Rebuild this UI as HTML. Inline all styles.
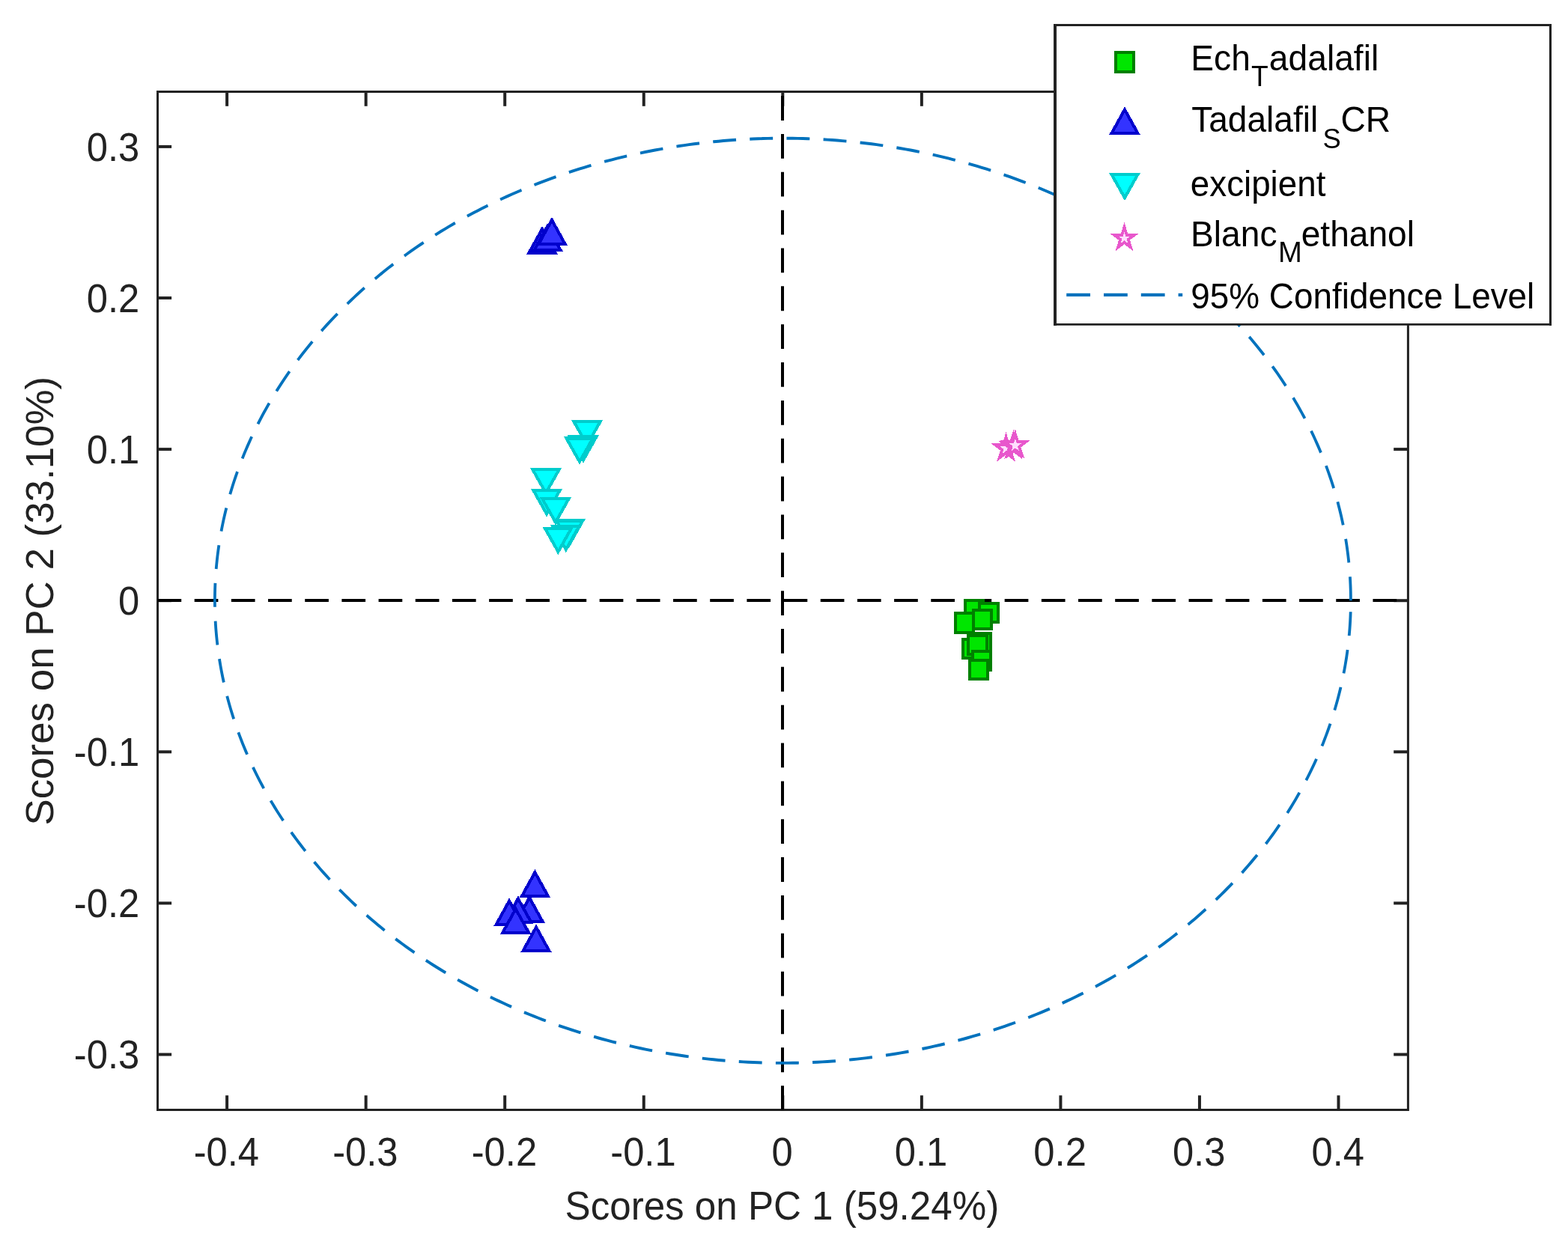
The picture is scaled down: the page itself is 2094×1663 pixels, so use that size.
<!DOCTYPE html>
<html lang="en"><head><meta charset="utf-8"><title>Scores on PC 1 vs PC 2</title>
<style>html,body{margin:0;padding:0;background:#fff;}body{width:2094px;height:1663px;overflow:hidden;}svg{display:block;}text{font-family:'Liberation Sans', sans-serif;}</style></head><body>
<svg width="2094" height="1663" viewBox="0 0 2094 1663" role="img" aria-label="PCA scores plot: Scores on PC 1 versus Scores on PC 2">
<rect x="0" y="0" width="2094" height="1663" fill="#ffffff"/>
<g stroke="#222222" stroke-width="4.0" fill="none" stroke-linecap="butt">
<line x1="303.1" y1="1482.5" x2="303.1" y2="1463.2"/>
<line x1="303.1" y1="122.5" x2="303.1" y2="141.8"/>
<line x1="488.65" y1="1482.5" x2="488.65" y2="1463.2"/>
<line x1="488.65" y1="122.5" x2="488.65" y2="141.8"/>
<line x1="674.2" y1="1482.5" x2="674.2" y2="1463.2"/>
<line x1="674.2" y1="122.5" x2="674.2" y2="141.8"/>
<line x1="859.75" y1="1482.5" x2="859.75" y2="1463.2"/>
<line x1="859.75" y1="122.5" x2="859.75" y2="141.8"/>
<line x1="1045.3" y1="1482.5" x2="1045.3" y2="1463.2"/>
<line x1="1045.3" y1="122.5" x2="1045.3" y2="141.8"/>
<line x1="1230.85" y1="1482.5" x2="1230.85" y2="1463.2"/>
<line x1="1230.85" y1="122.5" x2="1230.85" y2="141.8"/>
<line x1="1416.4" y1="1482.5" x2="1416.4" y2="1463.2"/>
<line x1="1416.4" y1="122.5" x2="1416.4" y2="141.8"/>
<line x1="1601.95" y1="1482.5" x2="1601.95" y2="1463.2"/>
<line x1="1601.95" y1="122.5" x2="1601.95" y2="141.8"/>
<line x1="1787.5" y1="1482.5" x2="1787.5" y2="1463.2"/>
<line x1="1787.5" y1="122.5" x2="1787.5" y2="141.8"/>
<line x1="210.5" y1="1408.5" x2="229.1" y2="1408.5"/>
<line x1="1880.4" y1="1408.5" x2="1861.2" y2="1408.5"/>
<line x1="210.5" y1="1206.4" x2="229.1" y2="1206.4"/>
<line x1="1880.4" y1="1206.4" x2="1861.2" y2="1206.4"/>
<line x1="210.5" y1="1004.3" x2="229.1" y2="1004.3"/>
<line x1="1880.4" y1="1004.3" x2="1861.2" y2="1004.3"/>
<line x1="210.5" y1="802.2" x2="229.1" y2="802.2"/>
<line x1="1880.4" y1="802.2" x2="1861.2" y2="802.2"/>
<line x1="210.5" y1="600.1" x2="229.1" y2="600.1"/>
<line x1="1880.4" y1="600.1" x2="1861.2" y2="600.1"/>
<line x1="210.5" y1="398" x2="229.1" y2="398"/>
<line x1="1880.4" y1="398" x2="1861.2" y2="398"/>
<line x1="210.5" y1="195.9" x2="229.1" y2="195.9"/>
<line x1="1880.4" y1="195.9" x2="1861.2" y2="195.9"/>
</g>
<rect x="210.5" y="122.5" width="1669.9" height="1360" fill="none" stroke="#222222" stroke-width="3"/>
<defs><clipPath id="axclip"><rect x="210.5" y="122.5" width="1669.9" height="1360"/></clipPath></defs>
<g clip-path="url(#axclip)">
<line x1="210.5" y1="802" x2="1880.4" y2="802" stroke="#000" stroke-width="4.2" stroke-dasharray="31.7 17.48"/>
<line x1="1045" y1="128.1" x2="1045" y2="1482.5" stroke="#000" stroke-width="4" stroke-dasharray="32.8 18.05"/>
<g shape-rendering="crispEdges">
<rect x="1289.02" y="802.02" width="24.15" height="24.95" fill="#00e600" stroke="#008000" stroke-width="3.85"/>
<rect x="1307.92" y="806.02" width="25.15" height="24.95" fill="#00e600" stroke="#008000" stroke-width="3.85"/>
<rect x="1275.97" y="819.22" width="24.15" height="25.65" fill="#00e600" stroke="#008000" stroke-width="3.85"/>
<rect x="1300.17" y="815.07" width="23.85" height="24.85" fill="#00e600" stroke="#008000" stroke-width="3.85"/>
<rect x="1298.83" y="846.02" width="24.15" height="24.95" fill="#00e600" stroke="#008000" stroke-width="3.85"/>
<rect x="1293.12" y="846.07" width="24.15" height="24.95" fill="#00e600" stroke="#008000" stroke-width="3.85"/>
<rect x="1286.12" y="854.02" width="24.15" height="24.95" fill="#00e600" stroke="#008000" stroke-width="3.85"/>
<rect x="1293.12" y="849.22" width="24.75" height="24.95" fill="#00e600" stroke="#008000" stroke-width="3.85"/>
<rect x="1298.83" y="869.82" width="24.15" height="24.95" fill="#00e600" stroke="#008000" stroke-width="3.85"/>
<rect x="1294.92" y="882.02" width="24.15" height="24.95" fill="#00e600" stroke="#008000" stroke-width="3.85"/>
</g>
<g shape-rendering="crispEdges">
<polygon transform="translate(724,301.8) scale(1,1.0337)" points="0,4 17.6,34.9 -17.6,34.9" fill="#3333ff" stroke="#0000cc" stroke-width="4.0" stroke-linejoin="miter"/>
<polygon transform="translate(731,298.1) scale(1,1.0337)" points="0,4 17.6,34.9 -17.6,34.9" fill="#3333ff" stroke="#0000cc" stroke-width="4.0" stroke-linejoin="miter"/>
<polygon transform="translate(737,289.8) scale(1,1.0337)" points="0,4 17.6,34.9 -17.6,34.9" fill="#3333ff" stroke="#0000cc" stroke-width="4.0" stroke-linejoin="miter"/>
<polygon transform="translate(707,1194.9) scale(1,1.0337)" points="0,4 17.6,34.9 -17.6,34.9" fill="#3333ff" stroke="#0000cc" stroke-width="4.0" stroke-linejoin="miter"/>
<polygon transform="translate(691.9,1196.2) scale(1,1.0337)" points="0,4 17.6,34.9 -17.6,34.9" fill="#3333ff" stroke="#0000cc" stroke-width="4.0" stroke-linejoin="miter"/>
<polygon transform="translate(680.1,1199.2) scale(1,1.0337)" points="0,4 17.6,34.9 -17.6,34.9" fill="#3333ff" stroke="#0000cc" stroke-width="4.0" stroke-linejoin="miter"/>
<polygon transform="translate(688.7,1210) scale(1,1.0337)" points="0,4 17.6,34.9 -17.6,34.9" fill="#3333ff" stroke="#0000cc" stroke-width="4.0" stroke-linejoin="miter"/>
<polygon transform="translate(714.4,1161.1) scale(1,1.0337)" points="0,4 17.6,34.9 -17.6,34.9" fill="#3333ff" stroke="#0000cc" stroke-width="4.0" stroke-linejoin="miter"/>
<polygon transform="translate(716,1234.25) scale(1,1.0337)" points="0,4 17.6,34.9 -17.6,34.9" fill="#3333ff" stroke="#0000cc" stroke-width="4.0" stroke-linejoin="miter"/>
<polygon transform="translate(784,561.2) scale(1,1.0337)" points="-17.6,2 17.6,2 0,32.3" fill="#00ffff" stroke="#00cccc" stroke-width="4.0" stroke-linejoin="miter"/>
<polygon transform="translate(778.9,581.3) scale(1,1.0337)" points="-17.6,2 17.6,2 0,32.3" fill="#00ffff" stroke="#00cccc" stroke-width="4.0" stroke-linejoin="miter"/>
<polygon transform="translate(774,583.4) scale(1,1.0337)" points="-17.6,2 17.6,2 0,32.3" fill="#00ffff" stroke="#00cccc" stroke-width="4.0" stroke-linejoin="miter"/>
<polygon transform="translate(729,625.3) scale(1,1.0337)" points="-17.6,2 17.6,2 0,32.3" fill="#00ffff" stroke="#00cccc" stroke-width="4.0" stroke-linejoin="miter"/>
<polygon transform="translate(730,653.1) scale(1,1.0337)" points="-17.6,2 17.6,2 0,32.3" fill="#00ffff" stroke="#00cccc" stroke-width="4.0" stroke-linejoin="miter"/>
<polygon transform="translate(741.9,664.3) scale(1,1.0337)" points="-17.6,2 17.6,2 0,32.3" fill="#00ffff" stroke="#00cccc" stroke-width="4.0" stroke-linejoin="miter"/>
<polygon transform="translate(760.7,693.4) scale(1,1.0337)" points="-17.6,2 17.6,2 0,32.3" fill="#00ffff" stroke="#00cccc" stroke-width="4.0" stroke-linejoin="miter"/>
<polygon transform="translate(755.8,700.7) scale(1,1.0337)" points="-17.6,2 17.6,2 0,32.3" fill="#00ffff" stroke="#00cccc" stroke-width="4.0" stroke-linejoin="miter"/>
<polygon transform="translate(745.4,703.6) scale(1,1.0337)" points="-17.6,2 17.6,2 0,32.3" fill="#00ffff" stroke="#00cccc" stroke-width="4.0" stroke-linejoin="miter"/>
<polygon transform="translate(1343.5,599.04) scale(1,1.0337)" points="0,-14.9 3.35,-4.6 14.17,-4.6 5.41,1.76 8.76,12.05 0,5.69 -8.76,12.05 -5.41,1.76 -14.17,-4.6 -3.35,-4.6" fill="#ffddff" stroke="#e857cc" stroke-width="3.85" stroke-linejoin="miter" stroke-miterlimit="10"/>
<polygon transform="translate(1353.4,595.84) scale(1,1.0337)" points="0,-14.9 3.35,-4.6 14.17,-4.6 5.41,1.76 8.76,12.05 0,5.69 -8.76,12.05 -5.41,1.76 -14.17,-4.6 -3.35,-4.6" fill="#ffddff" stroke="#e857cc" stroke-width="3.85" stroke-linejoin="miter" stroke-miterlimit="10"/>
<polygon transform="translate(1355.8,594.94) scale(1,1.0337)" points="0,-14.9 3.35,-4.6 14.17,-4.6 5.41,1.76 8.76,12.05 0,5.69 -8.76,12.05 -5.41,1.76 -14.17,-4.6 -3.35,-4.6" fill="#ffddff" stroke="#e857cc" stroke-width="3.85" stroke-linejoin="miter" stroke-miterlimit="10"/>
</g>
<path transform="scale(1,1.0337)" d="M1803.9,776.14L1803.87,770.93L1803.78,765.72L1803.64,760.5L1803.44,755.29L1803.18,750.08L1802.86,744.88L1802.49,739.67L1802.05,734.47L1801.56,729.27L1801.01,724.07L1800.41,718.88L1799.74,713.69L1799.02,708.51L1798.25,703.33L1797.41,698.16L1796.52,692.99L1795.57,687.83L1794.56,682.68L1793.5,677.53L1792.38,672.4L1791.2,667.26L1789.96,662.14L1788.67,657.03L1787.32,651.92L1785.92,646.83L1784.46,641.74L1782.94,636.67L1781.37,631.6L1779.74,626.55L1778.05,621.51L1776.31,616.48L1774.52,611.46L1772.66,606.45L1770.76,601.46L1768.79,596.48L1766.78,591.52L1764.7,586.57L1762.58,581.63L1760.39,576.71L1758.16,571.8L1755.87,566.91L1753.52,562.03L1751.12,557.17L1748.67,552.33L1746.16,547.5L1743.6,542.7L1740.99,537.91L1738.32,533.13L1735.61,528.38L1732.83,523.64L1730.01,518.93L1727.14,514.23L1724.21,509.56L1721.23,504.9L1718.2,500.27L1715.12,495.65L1711.98,491.06L1708.8,486.49L1705.56,481.94L1702.28,477.41L1698.95,472.91L1695.56,468.43L1692.13,463.97L1688.64,459.54L1685.11,455.13L1681.53,450.74L1677.9,446.38L1674.22,442.05L1670.5,437.74L1666.73,433.45L1662.91,429.19L1659.04,424.96L1655.13,420.76L1651.17,416.58L1647.16,412.43L1643.11,408.31L1639.01,404.21L1634.87,400.15L1630.68,396.11L1626.44,392.1L1622.17,388.12L1617.85,384.17L1613.48,380.25L1609.08,376.36L1604.62,372.5L1600.13,368.67L1595.6,364.88L1591.02,361.11L1586.4,357.37L1581.74,353.67L1577.04,350L1572.3,346.36L1567.52,342.76L1562.7,339.19L1557.84,335.65L1552.94,332.14L1548,328.67L1543.02,325.23L1538.01,321.83L1532.95,318.46L1527.87,315.12L1522.74,311.83L1517.58,308.56L1512.38,305.33L1507.15,302.14L1501.88,298.99L1496.57,295.87L1491.24,292.78L1485.86,289.74L1480.46,286.73L1475.02,283.76L1469.55,280.82L1464.04,277.93L1458.51,275.07L1452.94,272.25L1447.34,269.46L1441.72,266.72L1436.06,264.02L1430.37,261.35L1424.65,258.72L1418.9,256.14L1413.13,253.59L1407.32,251.08L1401.49,248.61L1395.64,246.19L1389.75,243.8L1383.84,241.45L1377.9,239.15L1371.94,236.88L1365.96,234.66L1359.94,232.47L1353.91,230.33L1347.85,228.23L1341.77,226.17L1335.67,224.16L1329.54,222.18L1323.39,220.25L1317.22,218.36L1311.03,216.51L1304.82,214.71L1298.59,212.95L1292.34,211.23L1286.08,209.55L1279.79,207.92L1273.49,206.33L1267.16,204.78L1260.83,203.28L1254.47,201.82L1248.1,200.41L1241.71,199.04L1235.31,197.71L1228.9,196.43L1222.47,195.19L1216.03,193.99L1209.57,192.84L1203.1,191.73L1196.62,190.67L1190.13,189.66L1183.63,188.68L1177.11,187.76L1170.59,186.87L1164.06,186.03L1157.51,185.24L1150.96,184.49L1144.4,183.79L1137.84,183.13L1131.26,182.52L1124.68,181.95L1118.1,181.43L1111.51,180.95L1104.91,180.52L1098.31,180.13L1091.71,179.79L1085.1,179.5L1078.49,179.25L1071.87,179.04L1065.26,178.88L1058.64,178.77L1052.02,178.7L1045.4,178.68L1038.78,178.7L1032.16,178.77L1025.54,178.88L1018.93,179.04L1012.31,179.25L1005.7,179.5L999.09,179.79L992.49,180.13L985.89,180.52L979.29,180.95L972.7,181.43L966.12,181.95L959.54,182.52L952.96,183.13L946.4,183.79L939.84,184.49L933.29,185.24L926.74,186.03L920.21,186.87L913.69,187.76L907.17,188.68L900.67,189.66L894.18,190.67L887.7,191.73L881.23,192.84L874.77,193.99L868.33,195.19L861.9,196.43L855.49,197.71L849.09,199.04L842.7,200.41L836.33,201.82L829.97,203.28L823.64,204.78L817.31,206.33L811.01,207.92L804.72,209.55L798.46,211.23L792.21,212.95L785.98,214.71L779.77,216.51L773.58,218.36L767.41,220.25L761.26,222.18L755.13,224.16L749.03,226.17L742.95,228.23L736.89,230.33L730.86,232.47L724.84,234.66L718.86,236.88L712.9,239.15L706.96,241.45L701.05,243.8L695.16,246.19L689.31,248.61L683.48,251.08L677.67,253.59L671.9,256.14L666.15,258.72L660.43,261.35L654.74,264.02L649.08,266.72L643.46,269.46L637.86,272.25L632.29,275.07L626.76,277.93L621.25,280.82L615.78,283.76L610.34,286.73L604.94,289.74L599.56,292.78L594.23,295.87L588.92,298.99L583.65,302.14L578.42,305.33L573.22,308.56L568.06,311.83L562.93,315.12L557.85,318.46L552.79,321.83L547.78,325.23L542.8,328.67L537.86,332.14L532.96,335.65L528.1,339.19L523.28,342.76L518.5,346.36L513.76,350L509.06,353.67L504.4,357.37L499.78,361.11L495.2,364.88L490.67,368.67L486.18,372.5L481.72,376.36L477.32,380.25L472.95,384.17L468.63,388.12L464.36,392.1L460.12,396.11L455.93,400.15L451.79,404.21L447.69,408.31L443.64,412.43L439.63,416.58L435.67,420.76L431.76,424.96L427.89,429.19L424.07,433.45L420.3,437.74L416.58,442.05L412.9,446.38L409.27,450.74L405.69,455.13L402.16,459.54L398.67,463.97L395.24,468.43L391.85,472.91L388.52,477.41L385.24,481.94L382,486.49L378.82,491.06L375.68,495.65L372.6,500.27L369.57,504.9L366.59,509.56L363.66,514.23L360.79,518.93L357.97,523.64L355.19,528.38L352.48,533.13L349.81,537.91L347.2,542.7L344.64,547.5L342.13,552.33L339.68,557.17L337.28,562.03L334.93,566.91L332.64,571.8L330.41,576.71L328.22,581.63L326.1,586.57L324.02,591.52L322.01,596.48L320.04,601.46L318.14,606.45L316.28,611.46L314.49,616.48L312.75,621.51L311.06,626.55L309.43,631.6L307.86,636.67L306.34,641.74L304.88,646.83L303.48,651.92L302.13,657.03L300.84,662.14L299.6,667.26L298.42,672.4L297.3,677.53L296.24,682.68L295.23,687.83L294.28,692.99L293.39,698.16L292.55,703.33L291.78,708.51L291.06,713.69L290.39,718.88L289.79,724.07L289.24,729.27L288.75,734.47L288.31,739.67L287.94,744.88L287.62,750.08L287.36,755.29L287.16,760.5L287.02,765.72L286.93,770.93L286.9,776.14L286.93,781.36L287.02,786.57L287.16,791.78L287.36,797L287.62,802.21L287.94,807.41L288.31,812.62L288.75,817.82L289.24,823.02L289.79,828.22L290.39,833.41L291.06,838.6L291.78,843.78L292.55,848.96L293.39,854.13L294.28,859.3L295.23,864.45L296.24,869.61L297.3,874.75L298.42,879.89L299.6,885.02L300.84,890.15L302.13,895.26L303.48,900.36L304.88,905.46L306.34,910.54L307.86,915.62L309.43,920.68L311.06,925.74L312.75,930.78L314.49,935.81L316.28,940.83L318.14,945.83L320.04,950.83L322.01,955.81L324.02,960.77L326.1,965.72L328.22,970.66L330.41,975.58L332.64,980.49L334.93,985.38L337.28,990.26L339.68,995.12L342.13,999.96L344.64,1004.78L347.2,1009.59L349.81,1014.38L352.48,1019.16L355.19,1023.91L357.97,1028.64L360.79,1033.36L363.66,1038.06L366.59,1042.73L369.57,1047.39L372.6,1052.02L375.68,1056.64L378.82,1061.23L382,1065.8L385.24,1070.35L388.52,1074.88L391.85,1079.38L395.24,1083.86L398.67,1088.32L402.16,1092.75L405.69,1097.16L409.27,1101.55L412.9,1105.91L416.58,1110.24L420.3,1114.55L424.07,1118.84L427.89,1123.09L431.76,1127.33L435.67,1131.53L439.63,1135.71L443.64,1139.86L447.69,1143.98L451.79,1148.07L455.93,1152.14L460.12,1156.18L464.36,1160.19L468.63,1164.17L472.95,1168.12L477.32,1172.04L481.72,1175.93L486.18,1179.79L490.67,1183.61L495.2,1187.41L499.78,1191.18L504.4,1194.91L509.06,1198.62L513.76,1202.29L518.5,1205.92L523.28,1209.53L528.1,1213.1L532.96,1216.64L537.86,1220.15L542.8,1223.62L547.78,1227.06L552.79,1230.46L557.85,1233.83L562.93,1237.16L568.06,1240.46L573.22,1243.73L578.42,1246.95L583.65,1250.15L588.92,1253.3L594.23,1256.42L599.56,1259.5L604.94,1262.55L610.34,1265.56L615.78,1268.53L621.25,1271.47L626.76,1274.36L632.29,1277.22L637.86,1280.04L643.46,1282.82L649.08,1285.57L654.74,1288.27L660.43,1290.94L666.15,1293.56L671.9,1296.15L677.67,1298.7L683.48,1301.21L689.31,1303.67L695.16,1306.1L701.05,1308.49L706.96,1310.84L712.9,1313.14L718.86,1315.41L724.84,1317.63L730.86,1319.81L736.89,1321.96L742.95,1324.06L749.03,1326.11L755.13,1328.13L761.26,1330.1L767.41,1332.04L773.58,1333.93L779.77,1335.77L785.98,1337.58L792.21,1339.34L798.46,1341.06L804.72,1342.73L811.01,1344.37L817.31,1345.96L823.64,1347.5L829.97,1349.01L836.33,1350.46L842.7,1351.88L849.09,1353.25L855.49,1354.58L861.9,1355.86L868.33,1357.1L874.77,1358.3L881.23,1359.45L887.7,1360.55L894.18,1361.62L900.67,1362.63L907.17,1363.6L913.69,1364.53L920.21,1365.42L926.74,1366.25L933.29,1367.05L939.84,1367.79L946.4,1368.5L952.96,1369.16L959.54,1369.77L966.12,1370.34L972.7,1370.86L979.29,1371.34L985.89,1371.77L992.49,1372.15L999.09,1372.49L1005.7,1372.79L1012.31,1373.04L1018.93,1373.25L1025.54,1373.4L1032.16,1373.52L1038.78,1373.59L1045.4,1373.61L1052.02,1373.59L1058.64,1373.52L1065.26,1373.4L1071.87,1373.25L1078.49,1373.04L1085.1,1372.79L1091.71,1372.49L1098.31,1372.15L1104.91,1371.77L1111.51,1371.34L1118.1,1370.86L1124.68,1370.34L1131.26,1369.77L1137.84,1369.16L1144.4,1368.5L1150.96,1367.79L1157.51,1367.05L1164.06,1366.25L1170.59,1365.42L1177.11,1364.53L1183.63,1363.6L1190.13,1362.63L1196.62,1361.62L1203.1,1360.55L1209.57,1359.45L1216.03,1358.3L1222.47,1357.1L1228.9,1355.86L1235.31,1354.58L1241.71,1353.25L1248.1,1351.88L1254.47,1350.46L1260.83,1349.01L1267.16,1347.5L1273.49,1345.96L1279.79,1344.37L1286.08,1342.73L1292.34,1341.06L1298.59,1339.34L1304.82,1337.58L1311.03,1335.77L1317.22,1333.93L1323.39,1332.04L1329.54,1330.1L1335.67,1328.13L1341.77,1326.11L1347.85,1324.06L1353.91,1321.96L1359.94,1319.81L1365.96,1317.63L1371.94,1315.41L1377.9,1313.14L1383.84,1310.84L1389.75,1308.49L1395.64,1306.1L1401.49,1303.67L1407.32,1301.21L1413.13,1298.7L1418.9,1296.15L1424.65,1293.56L1430.37,1290.94L1436.06,1288.27L1441.72,1285.57L1447.34,1282.82L1452.94,1280.04L1458.51,1277.22L1464.04,1274.36L1469.55,1271.47L1475.02,1268.53L1480.46,1265.56L1485.86,1262.55L1491.24,1259.5L1496.57,1256.42L1501.88,1253.3L1507.15,1250.15L1512.38,1246.95L1517.58,1243.73L1522.74,1240.46L1527.87,1237.16L1532.95,1233.83L1538.01,1230.46L1543.02,1227.06L1548,1223.62L1552.94,1220.15L1557.84,1216.64L1562.7,1213.1L1567.52,1209.53L1572.3,1205.92L1577.04,1202.29L1581.74,1198.62L1586.4,1194.91L1591.02,1191.18L1595.6,1187.41L1600.13,1183.61L1604.62,1179.79L1609.08,1175.93L1613.48,1172.04L1617.85,1168.12L1622.17,1164.17L1626.44,1160.19L1630.68,1156.18L1634.87,1152.14L1639.01,1148.07L1643.11,1143.98L1647.16,1139.86L1651.17,1135.71L1655.13,1131.53L1659.04,1127.33L1662.91,1123.09L1666.73,1118.84L1670.5,1114.55L1674.22,1110.24L1677.9,1105.91L1681.53,1101.55L1685.11,1097.16L1688.64,1092.75L1692.13,1088.32L1695.56,1083.86L1698.95,1079.38L1702.28,1074.88L1705.56,1070.35L1708.8,1065.8L1711.98,1061.23L1715.12,1056.64L1718.2,1052.02L1721.23,1047.39L1724.21,1042.73L1727.14,1038.06L1730.01,1033.36L1732.83,1028.64L1735.61,1023.91L1738.32,1019.16L1740.99,1014.38L1743.6,1009.59L1746.16,1004.78L1748.67,999.96L1751.12,995.12L1753.52,990.26L1755.87,985.38L1758.16,980.49L1760.39,975.58L1762.58,970.66L1764.7,965.72L1766.78,960.77L1768.79,955.81L1770.76,950.83L1772.66,945.83L1774.52,940.83L1776.31,935.81L1778.05,930.78L1779.74,925.74L1781.37,920.68L1782.94,915.62L1784.46,910.54L1785.92,905.46L1787.32,900.36L1788.67,895.26L1789.96,890.15L1791.2,885.02L1792.38,879.89L1793.5,874.75L1794.56,869.61L1795.57,864.45L1796.52,859.3L1797.41,854.13L1798.25,848.96L1799.02,843.78L1799.74,838.6L1800.41,833.41L1801.01,828.22L1801.56,823.02L1802.05,817.82L1802.49,812.62L1802.86,807.41L1803.18,802.21L1803.44,797L1803.64,791.78L1803.78,786.57L1803.87,781.36L1803.9,776.14" fill="none" stroke="#0072bd" stroke-width="3.8" stroke-dasharray="30.9 18.28" stroke-linecap="butt" stroke-linejoin="round"/>
</g>
<text transform="translate(302.3,1557.2) scale(1,1.06)" font-size="50.7" text-anchor="middle" fill="#222222">-0.4</text>
<text transform="translate(487.85,1557.2) scale(1,1.06)" font-size="50.7" text-anchor="middle" fill="#222222">-0.3</text>
<text transform="translate(673.4,1557.2) scale(1,1.06)" font-size="50.7" text-anchor="middle" fill="#222222">-0.2</text>
<text transform="translate(858.95,1557.2) scale(1,1.06)" font-size="50.7" text-anchor="middle" fill="#222222">-0.1</text>
<text transform="translate(1044.5,1557.2) scale(1,1.06)" font-size="50.7" text-anchor="middle" fill="#222222">0</text>
<text transform="translate(1230.05,1557.2) scale(1,1.06)" font-size="50.7" text-anchor="middle" fill="#222222">0.1</text>
<text transform="translate(1415.6,1557.2) scale(1,1.06)" font-size="50.7" text-anchor="middle" fill="#222222">0.2</text>
<text transform="translate(1601.15,1557.2) scale(1,1.06)" font-size="50.7" text-anchor="middle" fill="#222222">0.3</text>
<text transform="translate(1786.7,1557.2) scale(1,1.06)" font-size="50.7" text-anchor="middle" fill="#222222">0.4</text>
<text transform="translate(186.2,1427.3) scale(1,1.06)" font-size="50.7" text-anchor="end" fill="#222222">-0.3</text>
<text transform="translate(186.2,1225.2) scale(1,1.06)" font-size="50.7" text-anchor="end" fill="#222222">-0.2</text>
<text transform="translate(186.2,1023.1) scale(1,1.06)" font-size="50.7" text-anchor="end" fill="#222222">-0.1</text>
<text transform="translate(186.2,821) scale(1,1.06)" font-size="50.7" text-anchor="end" fill="#222222">0</text>
<text transform="translate(186.2,618.9) scale(1,1.06)" font-size="50.7" text-anchor="end" fill="#222222">0.1</text>
<text transform="translate(186.2,416.8) scale(1,1.06)" font-size="50.7" text-anchor="end" fill="#222222">0.2</text>
<text transform="translate(186.2,214.7) scale(1,1.06)" font-size="50.7" text-anchor="end" fill="#222222">0.3</text>
<rect x="1409" y="33.5" width="661.5" height="399.9" fill="#ffffff"/>
<g stroke="#222222" fill="none" stroke-linecap="square">
<line x1="1409" y1="34" x2="1409" y2="432.9" stroke-width="4"/>
<line x1="2070.5" y1="33.5" x2="2070.5" y2="433.4" stroke-width="3.1"/>
<line x1="1409" y1="33.5" x2="2070.5" y2="33.5" stroke-width="2.9"/>
<line x1="1409" y1="433.4" x2="2070.5" y2="433.4" stroke-width="2.9"/>
</g>
<g shape-rendering="crispEdges"><rect x="1489.92" y="69.92" width="24.15" height="26.05" fill="#00e600" stroke="#008000" stroke-width="3.85"/></g>
<g shape-rendering="crispEdges">
<polygon transform="translate(1502,142.2) scale(1,1.0337)" points="0,4 17.6,34.9 -17.6,34.9" fill="#3333ff" stroke="#0000cc" stroke-width="4.0" stroke-linejoin="miter"/>
<polygon transform="translate(1502,230.8) scale(1,1.0337)" points="-17.6,2 17.6,2 0,32.3" fill="#00ffff" stroke="#00cccc" stroke-width="4.0" stroke-linejoin="miter"/>
<polygon transform="translate(1501.5,318.19) scale(1,1.0337)" points="0,-14.35 3.22,-4.43 13.65,-4.43 5.21,1.69 8.43,11.61 0,5.48 -8.43,11.61 -5.21,1.69 -13.65,-4.43 -3.22,-4.43" fill="#ffddff" stroke="#e857cc" stroke-width="3.8" stroke-linejoin="miter" stroke-miterlimit="10"/>
</g>
<line x1="1424.2" y1="393.9" x2="1579.2" y2="393.9" stroke="#0072bd" stroke-width="4.2" stroke-dasharray="31.8 18"/>
<text transform="translate(0,93.8) scale(1.0130,1.05)" font-size="45.6" fill="#000000"><tspan x="1569.873" y="0">Ech</tspan><tspan x="1649.629" y="19.714" font-size="36.8">T</tspan><tspan x="1673.086" y="0">adalafil</tspan></text>
<text transform="translate(0,176.2) scale(1.0105,1.05)" font-size="45.6" fill="#000000"><tspan x="1574.646" y="0">Tadalafil</tspan><tspan x="1748.047" y="20.286" font-size="36.0">S</tspan><tspan x="1771.977" y="0">CR</tspan></text>
<text transform="translate(0,261.9) scale(1.0034,1.05)" font-size="45.6" fill="#000000"><tspan x="1584.437" y="0">excipient</tspan></text>
<text transform="translate(0,328.9) scale(1.0114,1.05)" font-size="45.6" fill="#000000"><tspan x="1572.198" y="0">Blanc</tspan><tspan x="1687.663" y="19.619" font-size="37.8">M</tspan><tspan x="1718.145" y="0">ethanol</tspan></text>
<text transform="translate(0,412.3) scale(1.0064,1.05)" font-size="45.6" fill="#000000"><tspan x="1580.175" y="0">95% Confidence Level</tspan></text>
<text transform="translate(754.58,1629.1) scale(1.0084,1.06)" font-size="50.7" fill="#222222">Scores on PC 1 (59.24%)</text>
<text transform="translate(71.2,1102.61) rotate(-90) scale(1.0436,1.0254)" font-size="50.7" fill="#222222">Scores on PC 2 (33.10%)</text>
</svg>
</body></html>
